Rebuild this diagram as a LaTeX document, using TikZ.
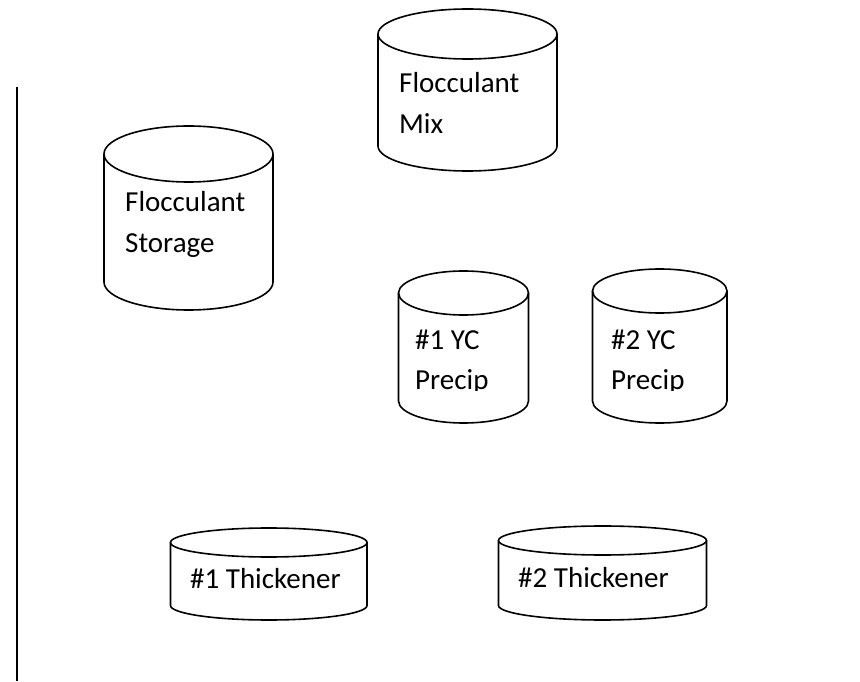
\documentclass[tikz,border=0pt]{standalone}
\usepackage{fontspec}
\setmainfont{Carlito}
\begin{document}
\begin{tikzpicture}[x=1pt,y=1pt,
  tankline/.style={draw=black,line width=1.6pt},
  rule/.style={draw=black,line width=2pt},
  label/.style={inner sep=0pt,anchor=base west,font=\fontsize{29}{41}\selectfont}]
% canvas: 860 x 681, coordinates below are measured from the top-left corner
\useasboundingbox (0,0) rectangle (860,681);
% \tank{left}{right}{top}{bottom}{half-height of the end ellipses}
\newcommand\tank[5]{%
  \pgfmathsetmacro\tcx{(#1+#2)/2}%
  \pgfmathsetmacro\trx{(#2-#1)/2}%
  \pgfmathsetmacro\tyt{681-(#3)-(#5)}%
  \pgfmathsetmacro\tyb{681-(#4)+(#5)}%
  \draw[tankline] (\tcx,\tyt) ellipse[x radius=\trx, y radius=#5];
  \draw[tankline] (#1,\tyt) -- (#1,\tyb)
    arc[start angle=180, end angle=360, x radius=\trx, y radius=#5] -- (#2,\tyt);
}
% left margin rule
\coordinate (ruletop) at (16.7,681-87);
\coordinate (rulebot) at (16.7,0);
\draw[rule] (ruletop) -- (rulebot);

% tanks
\tank{378}{557}{9}{171}{25}
\tank{104}{273}{126}{310}{28}
\tank{398.5}{528.5}{271}{423}{22}
\tank{592.5}{727}{269}{423}{22}
\tank{170.5}{367}{528}{620}{14.5}
\tank{498.5}{706.5}{526}{620}{14.5}

% labels
\node[label] (mixa) at (399,681-93) {Flocculant};
\node[label] (mixb) at (399,681-134) {Mix};
\node[label] (stoa) at (125,681-212) {Flocculant};
\node[label] (stob) at (125,681-253) {Storage};
\node[label] (yc1a) at (415,681-350) {\#1 YC};
\node[label] (yc2a) at (611,681-350) {\#2 YC};
\begin{scope}
  % the lower lines of the precipitation tanks are cut at their baseline
  \clip (380,681-391) rectangle (740,681-360);
  \node[label] (yc1b) at (415,681-390) {Precip};
  \node[label] (yc2b) at (611,681-390) {Precip};
\end{scope}
\node[label] (th1) at (190,681-588) {\#1 Thickener};
\node[label] (th2) at (518,681-587) {\#2 Thickener};
\end{tikzpicture}
\end{document}
